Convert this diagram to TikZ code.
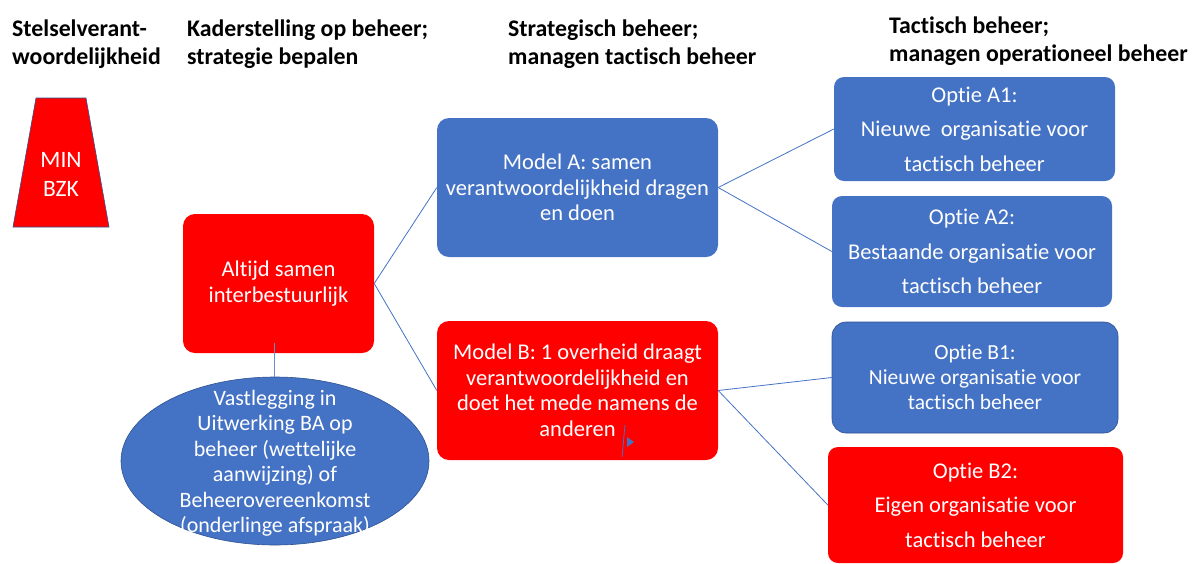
\documentclass[tikz,border=0pt]{standalone}
\usepackage{fontspec}
\setmainfont{Carlito}[Ligatures=NoCommon]
\usetikzlibrary{shapes.geometric,calc}
\definecolor{pblue}{HTML}{4472C4}
\definecolor{pdark}{HTML}{2F528F}
\definecolor{pred}{HTML}{FF0000}
\begin{document}
\begin{tikzpicture}[x=1pt,y=-1pt,
  hdr/.style={font=\bfseries\fontsize{23.8}{28}\selectfont, anchor=north west, align=left, inner sep=0pt},
  boxbase/.style={rectangle, rounded corners=12pt, text=white, align=center, inner sep=0pt},
  bluebox/.style={boxbase, fill=pblue},
  redbox/.style={boxbase, fill=pred},
  body/.style={font=\fontsize{22.5}{25.5}\selectfont},
  opt/.style={font=\fontsize{22.5}{34.5}\selectfont},
  conn/.style={draw=pblue, line width=0.8pt}]
\useasboundingbox (0,0) rectangle (1196,563);

% headers
\node[hdr] (h1) at (12,20) {Stelselverant-\\woordelijkheid};
\node[hdr] (h2) at (187,20) {Kaderstelling op beheer;\\strategie bepalen};
\node[hdr] (h3) at (508,20) {Strategisch beheer;\\managen tactisch beheer};
\node[hdr] (h4) at (889,17) {Tactisch beheer;\\managen operationeel beheer};

% trapezoid MIN BZK
\draw[fill=pred, draw=pdark, line width=0.6pt] (36,98) -- (86,98) -- (109,227) -- (13,227) -- cycle;
\node[font=\fontsize{23.5}{29}\selectfont, text=white, align=center, inner sep=0pt] (min) at (61,174) {MIN\\BZK};

% main boxes
\node[redbox, body, minimum width=191pt, minimum height=139pt] (altijd) at (278.5,283.5) {Altijd samen\\interbestuurlijk};
\node[bluebox, body, minimum width=281pt, minimum height=139pt] (modelA) at (577.5,187.5) {Model A: samen\\verantwoordelijkheid dragen\\en doen};
\node[redbox, body, minimum width=281pt, minimum height=139pt] (modelB) at (577.5,390.5) {Model B: 1 overheid draagt\\verantwoordelijkheid en\\doet het mede namens de\\anderen};

\node[bluebox, opt, rounded corners=10pt, minimum width=281pt, minimum height=104pt] (A1) at (974.5,129) {Optie A1:\\Nieuwe\ \ organisatie voor\\tactisch beheer};
\node[bluebox, opt, rounded corners=10pt, minimum width=280pt, minimum height=111pt] (A2) at (972,251.5) {Optie A2:\\Bestaande organisatie voor\\tactisch beheer};
\node[bluebox, draw=pdark, line width=0.6pt, font=\fontsize{21.5}{25}\selectfont, rounded corners=14pt, minimum width=286pt, minimum height=111pt] (B1) at (975,377.5) {Optie B1:\\Nieuwe organisatie voor\\tactisch beheer};
\node[redbox, opt, rounded corners=10pt, minimum width=295pt, minimum height=116pt] (B2) at (975.5,505) {Optie B2:\\Eigen organisatie voor\\tactisch beheer};

% ellipse
\node[ellipse, fill=pblue, draw=pdark, line width=0.6pt, minimum width=308pt, minimum height=168pt, inner sep=0pt] (ell) at (275,461) {};
\node[font=\fontsize{22}{25.5}\selectfont, text=white, align=center, inner sep=0pt] (elltext) at (275,463) {Vastlegging in\\Uitwerking BA op\\beheer (wettelijke\\aanwijzing) of\\Beheerovereenkomst\\(onderlinge afspraak)};

% connectors
\draw[conn] (altijd.east) -- (modelA.west);
\draw[conn] (altijd.east) -- (modelB.west);
\draw[conn] (modelA.east) -- (A1.west);
\draw[conn] (modelA.east) -- (A2.west);
\draw[conn] (modelB.east) -- (B1.west);
\draw[conn] (modelB.east) -- (B2.west);
\coordinate (stub) at ($(altijd.south)+(-4.5,-10)$);
\draw[conn, draw=pblue!80] (stub) -- (stub |- ell.north);

% small stray mark in Model B
\coordinate (m1) at (625,425);
\coordinate (m2) at (622,457);
\draw[conn] (m1) -- (m2);
\fill[pblue] (627,437) -- (634,442) -- (627,447) -- cycle;
\end{tikzpicture}
\end{document}
